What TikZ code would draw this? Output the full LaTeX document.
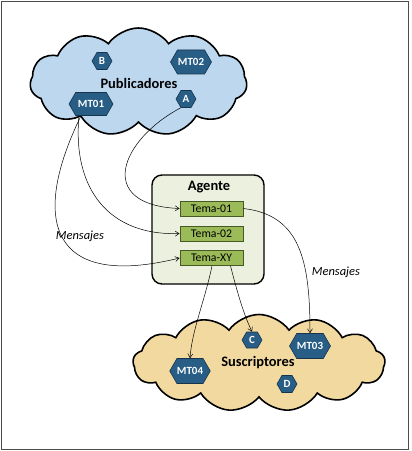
\documentclass[tikz,border=0pt]{standalone}
\usepackage{fontspec}
\setmainfont{Carlito}
\usepackage{tikz}
\usetikzlibrary{shapes.symbols,arrows.meta}
\definecolor{pubblue}{RGB}{189,215,238}
\definecolor{susctan}{RGB}{242,217,160}
\definecolor{hexblue}{RGB}{40,94,134}
\definecolor{hexedge}{RGB}{22,52,78}
\definecolor{agentgreen}{RGB}{235,241,222}
\definecolor{temagreen}{RGB}{155,187,89}
\definecolor{temaedge}{RGB}{70,90,35}
\tikzset{
  nube/.style={cloud, cloud puffs=11, cloud puff arc=110, draw=black, line width=1.6pt,
    inner sep=0pt},
  titulo/.style={font=\bfseries\fontsize{14.5}{16}\selectfont},
  hexa/.style={signal, signal to=west and east, signal pointer angle=120,
    fill=hexblue, draw=hexedge, line width=0.6pt, text=white, inner sep=0pt,
    font=\bfseries\fontsize{11}{12}\selectfont},
  tema/.style={draw=temaedge, fill=temagreen, line width=0.8pt, minimum width=63bp,
    minimum height=15bp, inner sep=0pt, font=\fontsize{11.8}{13}\selectfont},
  msg/.style={-{Straight Barb[length=4pt,width=5pt]}, line width=0.5pt},
  msglabel/.style={font=\itshape\fontsize{12.5}{14}\selectfont}
}
\begin{document}
\begin{tikzpicture}[x=1bp, y=-1bp]
    \useasboundingbox (0,0) rectangle (411,451);
    \draw[black!70, line width=0.8pt] (1,1) rectangle (408,449);

    % Clouds
    \node[nube, fill=pubblue, minimum width=217bp, minimum height=108bp] (pub) at (138.5,82) {};
    \node[nube, fill=susctan, cloud puffs=13, minimum width=252bp, minimum height=97bp] (susc) at (259,363) {};
    \node[titulo] (publbl) at (139,83) {Publicadores};
    \node[titulo] (susclbl) at (258,363) {Suscriptores};

    % Publishers
    \node[hexa, minimum width=20bp, minimum height=17bp] (B) at (102,61) {B};
    \node[hexa, minimum width=41bp, minimum height=24bp] (MT02) at (191,62) {MT02};
    \node[hexa, minimum width=44bp, minimum height=23bp] (MT01) at (91,104) {MT01};
    \node[hexa, minimum width=20bp, minimum height=17bp] (A) at (186,99) {A};

    % Broker
    \draw[line width=1.4pt, fill=agentgreen, rounded corners=10bp] (152,175) rectangle (264,284);
    \node[titulo] (agente) at (209,187) {Agente};
    \node[tema] (t1) at (211.5,208.5) {Tema-01};
    \node[tema] (t2) at (211.5,233.5) {Tema-02};
    \node[tema] (tXY) at (211.5,258) {Tema-XY};

    % Subscribers
    \node[hexa, minimum width=20bp, minimum height=16bp] (C) at (252,340) {C};
    \node[hexa, minimum width=41bp, minimum height=25bp] (MT03) at (310,346) {MT03};
    \node[hexa, minimum width=40bp, minimum height=25bp] (MT04) at (190,371) {MT04};
    \node[hexa, minimum width=20bp, minimum height=17bp] (D) at (287,384) {D};

    % Messages in
    \draw[msg] (A.south west) .. controls (120,140) and (95,205) .. (t1.west);
    \draw[msg] (MT01.south) ++(-12,0) coordinate (m1a) .. controls (72,190) and (110,236) .. (t2.west);
    \draw[msg] (MT01.south) ++(-10,0) coordinate (m1b) .. controls (30,220) and (50,290) .. (tXY.west);
    \node[msglabel] (lblin) at (80,236) {Mensajes};

    % Messages out
    \draw[msg] (t1.east) .. controls (300,215) and (310,260) .. (MT03.north);
    \node[msglabel] (lblout) at (336,272) {Mensajes};
    \draw[msg] (tXY.south) ++(0.5,0) coordinate (x1) .. controls (205,300) and (192,330) .. (MT04.north);
    \draw[msg] (tXY.south) ++(19,0) coordinate (x2) .. controls (238,295) and (244,315) .. (C.north);
\end{tikzpicture}
\end{document}
